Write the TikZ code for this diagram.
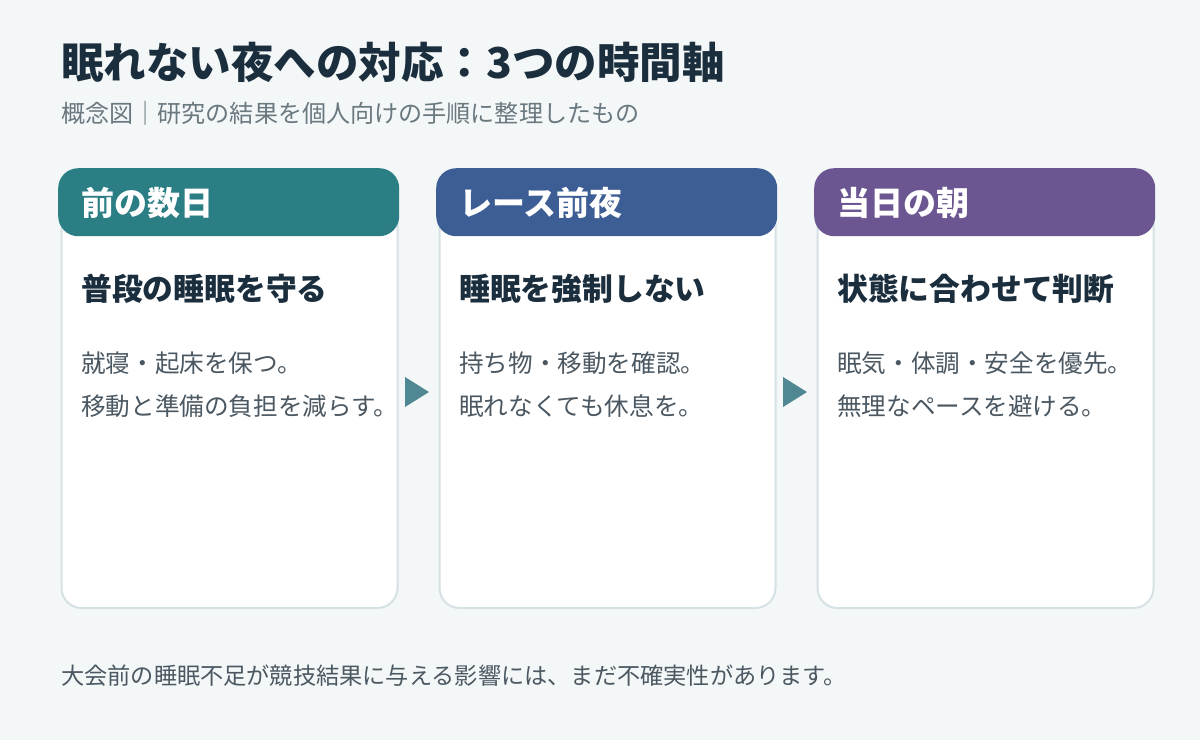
\documentclass[tikz,border=0pt]{standalone}
\usepackage{fontspec}
\setmainfont{Noto Sans CJK JP}
\definecolor{bgcol}{HTML}{F4F7F7}
\definecolor{cardline}{HTML}{D5E1E4}
\definecolor{tealhead}{HTML}{2A7E84}
\definecolor{bluehead}{HTML}{3D5E94}
\definecolor{purplehead}{HTML}{6B5691}
\definecolor{arrowcol}{HTML}{4F8893}
\definecolor{titlecol}{HTML}{1B2E3E}
\definecolor{subcol}{HTML}{6A7880}
\definecolor{bodycol}{HTML}{4B5862}

\begin{document}
\begin{tikzpicture}[x=1pt, y=-1pt,
    card/.style={draw=cardline, line width=2pt, fill=white, rounded corners=20pt, minimum width=336pt, minimum height=435pt, anchor=north west, inner sep=0pt},
    head/.style={rounded corners=20pt, minimum width=341pt, minimum height=68pt, anchor=north west, inner sep=0pt},
    headtxt/.style={anchor=west, inner sep=0pt, text=white, font=\fontsize{33}{38}\selectfont\bfseries},
    cardtitle/.style={anchor=west, inner sep=0pt, text=titlecol, font=\fontsize{30.8}{36}\selectfont\bfseries},
    bodytxt/.style={anchor=west, inner sep=0pt, text=bodycol, font=\fontsize{24.6}{28}\selectfont}]
    \fill[bgcol] (0,0) rectangle (1200,740);
    \node[anchor=west, inner sep=0pt, text=titlecol, font=\fontsize{42.5}{48}\selectfont\bfseries] (title) at (61,62) {眠れない夜への対応：3つの時間軸};
    \node[anchor=west, inner sep=0pt, text=subcol, font=\fontsize{24.1}{28}\selectfont] (subtitle) at (61,113) {概念図｜研究の結果を個人向けの手順に整理したもの};

    % cards
    \node[card] (card1) at (60.5,172) {};
    \node[card] (card2) at (438.5,172) {};
    \node[card] (card3) at (816.5,172) {};
    \node[head, fill=tealhead] (head1) at (58,168) {};
    \node[head, fill=bluehead] (head2) at (436,168) {};
    \node[head, fill=purplehead] (head3) at (814,168) {};

    % headers
    \node[headtxt] (head1txt) at (81,203) {前の数日};
    \node[headtxt] (head2txt) at (459,203) {レース前夜};
    \node[headtxt] (head3txt) at (837,203) {当日の朝};

    % titles
    \node[cardtitle] (title1) at (81,289) {普段の睡眠を守る};
    \node[cardtitle] (title2) at (459,289) {睡眠を強制しない};
    \node[cardtitle] (title3) at (837,289) {状態に合わせて判断};

    % body lines
    \node[bodytxt] (body1a) at (81,363) {就寝・起床を保つ。};
    \node[bodytxt] (body1b) at (81,406.5) {移動と準備の負担を減らす。};
    \node[bodytxt] (body2a) at (459,363) {持ち物・移動を確認。};
    \node[bodytxt] (body2b) at (459,406.5) {眠れなくても休息を。};
    \node[bodytxt] (body3a) at (837,363) {眠気・体調・安全を優先。};
    \node[bodytxt] (body3b) at (837,406.5) {無理なペースを避ける。};

    % arrows
    \fill[arrowcol] (405,377) -- (429,392) -- (405,407) -- cycle;
    \fill[arrowcol] (783,377) -- (807,392) -- (783,407) -- cycle;

    \node[anchor=west, inner sep=0pt, text=bodycol, font=\fontsize{23.2}{28}\selectfont] (note) at (61,676) {大会前の睡眠不足が競技結果に与える影響には、まだ不確実性があります。};
\end{tikzpicture}
\end{document}
